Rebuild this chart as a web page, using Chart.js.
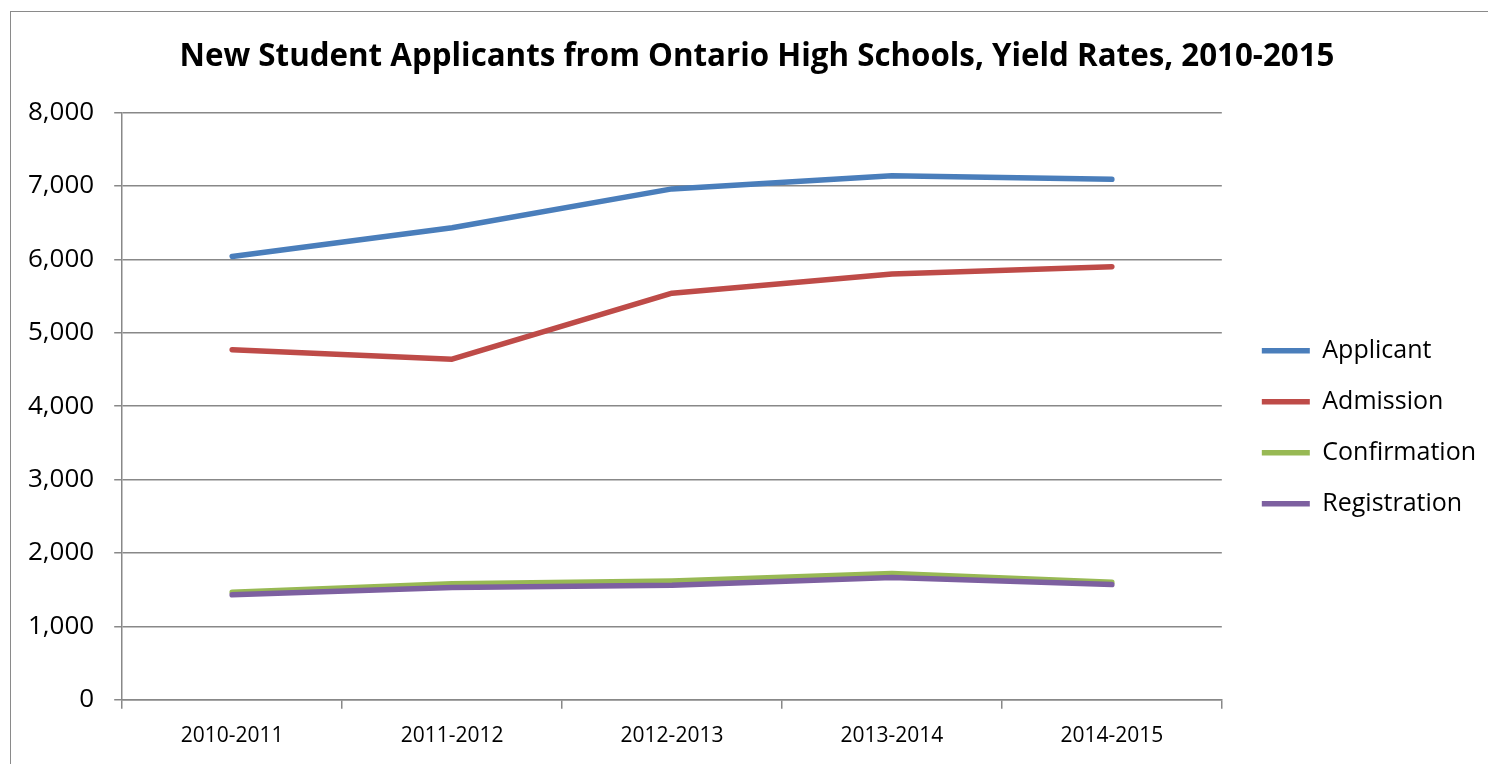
<!DOCTYPE html>
<html><head><meta charset="utf-8">
<script src="https://cdn.jsdelivr.net/npm/chart.js@4.4.1/dist/chart.umd.min.js"></script>
<style>
html,body{margin:0;padding:0;overflow:hidden;background:#fff;width:1488px;height:764px;}
#frame{position:absolute;left:10px;top:11px;width:1600px;height:900px;border:1.5px solid #8a8a8a;box-sizing:border-box;}
#c{position:absolute;left:0;top:0;}
</style></head><body>
<div id="frame"></div>
<canvas id="c" width="1514" height="764"></canvas>
<script>
const titleText = 'New Student Applicants from Ontario High Schools, Yield Rates, 2010-2015';
const categories = ['2010-2011', '2011-2012', '2012-2013', '2013-2014', '2014-2015'];
const seriesNames = ['Applicant', 'Admission', 'Confirmation', 'Registration'];
const applicant = [6040, 6430, 6960, 7140, 7090];
const admission = [4770, 4640, 5540, 5800, 5900];
const confirmation = [1465, 1580, 1620, 1720, 1600];
const registration = [1430, 1530, 1560, 1665, 1570];
const colors = ['#4A7EBB', '#BE4B48', '#98B954', '#7D60A0'];
const yMin = 0, yMax = 8000, yStep = 1000;

function hasFont(f) {
  const ctx = document.createElement('canvas').getContext('2d');
  const s = '2010-2011 Wmi';
  ctx.font = '40px monospace';
  const a = ctx.measureText(s).width;
  ctx.font = '40px "' + f + '", monospace';
  return ctx.measureText(s).width !== a;
}
const xFont = hasFont('Liberation Sans Narrow')
  ? { family: '"Liberation Sans Narrow"', size: 24 }
  : { family: '"Open Sans"', size: 21 };

Chart.defaults.color = '#000';
Chart.defaults.font.family = '"Open Sans", "Liberation Sans", sans-serif';

const gridColor = '#888888';
const allValues = [applicant, admission, confirmation, registration];

const boxPlace = {
  id: 'boxPlace',
  afterLayout(chart) {
    const L = chart.legend, a = chart.chartArea;
    const dx = a.right + 14 - L.left;
    L.left += dx; L.right += dx;
    L.top = a.top + 21; L.bottom = a.bottom + 21;
    const T = chart.titleBlock;
    if (T) { T.left = 0; T.right = chart.width; }
  }
};

new Chart(document.getElementById('c'), {
  type: 'line',
  data: {
    labels: categories,
    datasets: seriesNames.map((name, i) => ({
      label: name,
      data: allValues[i],
      borderColor: colors[i],
      backgroundColor: colors[i],
      borderWidth: 5.5,
      borderCapStyle: 'round',
      borderJoinStyle: 'round',
      pointRadius: 0,
      pointHoverRadius: 0,
      tension: 0,
      order: seriesNames.length - i
    }))
  },
  options: {
    responsive: false,
    animation: false,
    devicePixelRatio: 1,
    layout: { padding: { left: 8, right: 42, top: 0, bottom: 0 } },
    plugins: {
      tooltip: { enabled: false },
      title: {
        display: true,
        text: titleText,
        font: { size: 31.3, weight: 'bold' },
        color: '#000',
        padding: { top: 38, bottom: 37 }
      },
      legend: {
        position: 'right',
        labels: {
          sort: (a, b) => a.datasetIndex - b.datasetIndex,
          usePointStyle: true,
          pointStyle: 'line',
          pointStyleWidth: 48,
          boxHeight: 25,
          padding: 26,
          font: { size: 25 },
          color: '#000'
        }
      }
    },
    scales: {
      x: {
        offset: true,
        grid: {
          offset: true,
          drawOnChartArea: false,
          drawTicks: true,
          tickLength: 9,
          color: gridColor,
          lineWidth: 1.5
        },
        border: { display: true, color: gridColor, width: 1.5 },
        ticks: { font: xFont, padding: 15, color: '#000', maxRotation: 0 }
      },
      y: {
        min: yMin,
        max: yMax,
        grid: { color: gridColor, lineWidth: 1.5, tickLength: 8, drawTicks: true },
        border: { display: true, color: gridColor, width: 1.5 },
        ticks: {
          stepSize: yStep,
          padding: 20,
          font: { size: 26 },
          color: '#000',
          callback: v => v.toLocaleString('en-US')
        }
      }
    }
  },
  plugins: [boxPlace]
});
</script>
</body></html>
